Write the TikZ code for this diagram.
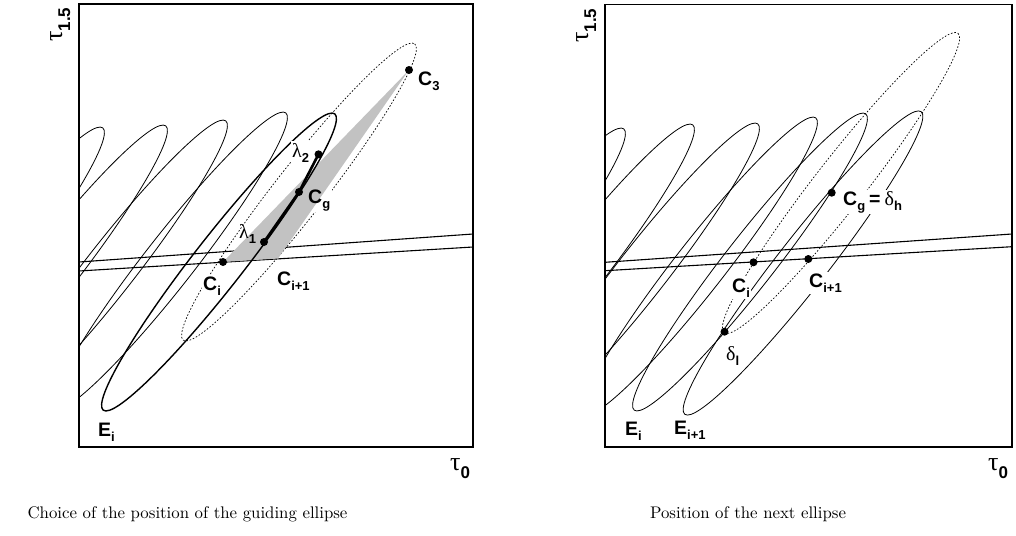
\documentclass[tikz,border=0pt]{standalone}
\usepackage{graphicx}
\usepackage{fontspec}
\newfontfamily\sfl{Liberation Sans}
\newfontfamily\srl{Liberation Serif}
\definecolor{grayfill}{gray}{0.76}
\newcommand\Cs[2]{{\sfl\bfseries\fontsize{19.5}{20}\selectfont #1\raisebox{-5pt}{\fontsize{13}{13}\selectfont #2}}}
\newcommand\Gs[2]{{\srl\fontsize{20}{20}\selectfont #1\raisebox{-5pt}{\sfl\bfseries\fontsize{13}{13}\selectfont #2}}}
\newcommand\Ts[1]{{\srl\fontsize{26}{26}\selectfont τ\raisebox{-8pt}{\sfl\bfseries\fontsize{17}{17}\selectfont #1}}}
\begin{document}
\begin{tikzpicture}[x=1pt,y=-1pt,
  ellthin/.style={line width=0.8pt},
  ellthick/.style={line width=1.4pt},
  guideell/.style={line width=0.7pt,dash pattern=on 1.6pt off 1.8pt},
  hline/.style={line width=1.1pt},
  panelbox/.style={line width=1.2pt},
  dotnode/.style={circle,fill=black,inner sep=0pt,minimum size=8pt},
  labnode/.style={inner sep=0pt,anchor=base west},
  masknode/.style={inner sep=1.5pt,anchor=base west,fill=white},
  captext/.style={anchor=base,inner sep=0pt}]
\useasboundingbox (0,0) rectangle (1016,535);
% ================= left panel
\begin{scope}
  \clip (79,4) rectangle (473,447);
  \foreach \cx/\cy in {-13/276, 50/274, 110/269, 170/261}
    \draw[ellthin,shift={(\cx,\cy)},rotate=52] (0,0) ellipse [x radius=188,y radius=25];
  \draw[guideell,shift={(299,192)},rotate=52] (0,0) ellipse [x radius=188,y radius=25];
\end{scope}
\draw[hline] (79,262) -- (473,234);
\draw[hline] (79,271) -- (473,247);
\node[masknode,text=white] (cgmaskL) at (306.5,203) {\Cs{C}{g}};
\fill[grayfill] (223,262) -- (409,70) -- (278,258.5) -- cycle;
\draw[ellthick,shift={(219,262)},rotate=52] (0,0) ellipse [x radius=188,y radius=25];
\node[dotnode] (ciL) at (223,262) {};
\node[dotnode] (l1) at (264,242) {};
\node[dotnode] (cgL) at (299,192) {};
\node[dotnode] (l2) at (318.5,154.3) {};
\node[dotnode] (c3) at (409,70) {};
\draw[line width=2.6pt] (l1.center) -- (cgL.center) -- (l2.center);
\node[labnode] (c3lab) at (418,85) {\Cs{C}{3}};
\node[masknode] (l2lab) at (290.5,157) {\Gs{λ}{2}};
\node[labnode] (cglab) at (308,203) {\Cs{C}{g}};
\node[labnode] (l1lab) at (239,238) {\Gs{λ}{1}};
\node[masknode] (cilab) at (201.5,290) {\Cs{C}{i}};
\node[masknode] (ci1lab) at (275.5,285) {\Cs{C}{i+1}};
\node[labnode] (eilab) at (98,436) {\Cs{E}{i}};
\node[labnode] (t0L) at (450,470) {\Ts{0}};
\node[labnode,rotate=90] (t15L) at (62,42) {\Ts{1.5}};
\draw[panelbox] (79,4) rectangle (473,447);
% ================= right panel
\begin{scope}
  \clip (605,4.5) rectangle (1012,447);
  \foreach \cx/\cy in {508/277, 577/273, 642/272, 700/266, 750/262}
    \draw[ellthin,shift={(\cx,\cy)},rotate=52] (0,0) ellipse [x radius=188,y radius=25];
  \draw[ellthin,shift={(803,263)},rotate=52] (0,0) ellipse [x radius=192,y radius=25];
  \draw[guideell,shift={(841,183)},rotate=52] (0,0) ellipse [x radius=190,y radius=25];
\end{scope}
\draw[hline] (605,262.3) -- (1012,234);
\draw[hline] (605,270.7) -- (1012,246.7);
\node[masknode] (cgrlab) at (841.5,205) {\Cs{C}{g}\hspace{4pt}{\sfl\bfseries\fontsize{19.5}{20}\selectfont =}\hspace{4pt}\Gs{δ}{h}};
\node[masknode] (cirlab) at (730.5,292) {\Cs{C}{i}};
\node[masknode] (ci1rlab) at (807.5,287) {\Cs{C}{i+1}};
\node[masknode] (dllab) at (724.5,360) {\Gs{δ}{l}};
\node[labnode] (eirlab) at (625,435) {\Cs{E}{i}};
\node[labnode] (ei1lab) at (674,434) {\Cs{E}{i+1}};
\node[labnode] (t0R) at (988,470) {\Ts{0}};
\node[labnode,rotate=90] (t15R) at (588,43) {\Ts{1.5}};
\node[dotnode] (ciR) at (753.5,262.3) {};
\node[dotnode] (ci1R) at (808.3,259) {};
\node[dotnode] (cgR) at (831.7,192.7) {};
\node[dotnode] (dl) at (724.5,331.7) {};
\draw[panelbox] (605,4.5) rectangle (1012,447);
% captions
\node[captext] (cap1) at (187.5,518) {\scalebox{1.68}{Choice of the position of the guiding ellipse}};
\node[captext] (cap2) at (748,518) {\scalebox{1.68}{Position of the next ellipse}};
\end{tikzpicture}
\end{document}
